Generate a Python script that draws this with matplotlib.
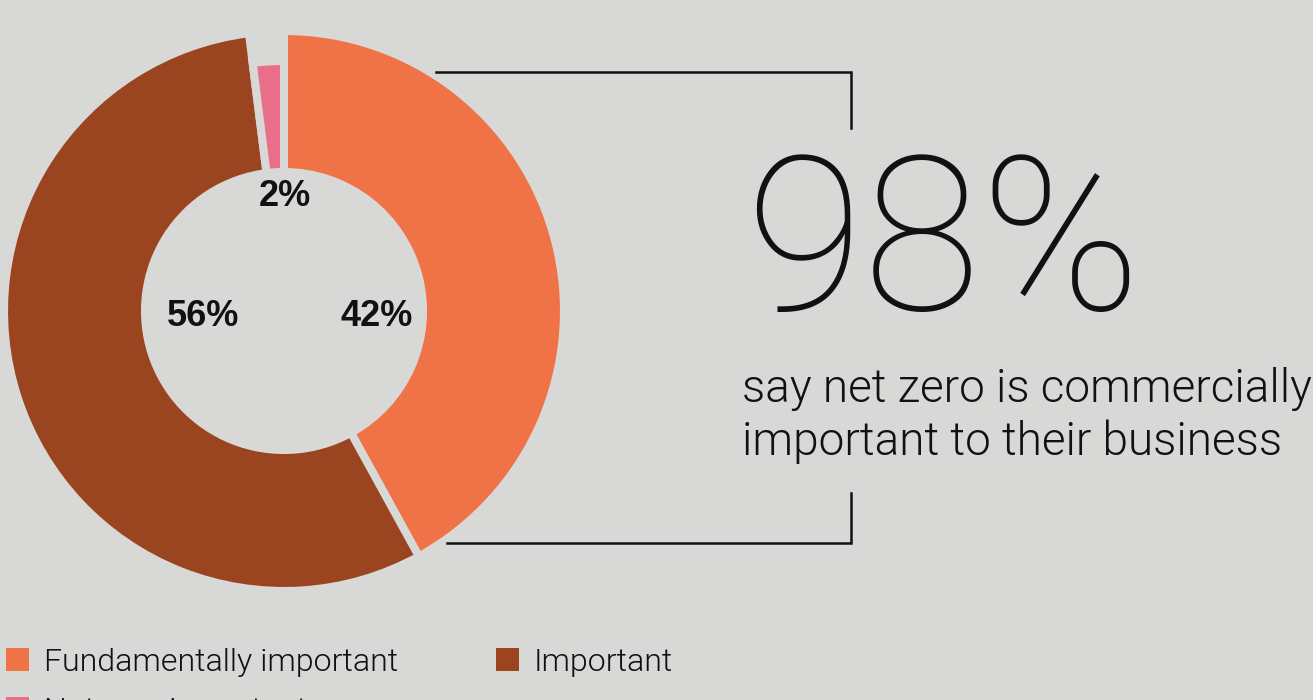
import matplotlib
matplotlib.use("Agg")
import matplotlib.pyplot as plt
from matplotlib import font_manager
from matplotlib.patches import Patch

# Survey data
categories = ["Fundamentally important", "Important", "Not very important"]
shares = [42, 56, 2]
share_labels = ["42%", "56%", "2%"]
colors = ["#EF7346", "#9A4520", "#E86F87"]
headline = "98%"
subtitle = ["say net zero is commercially", "important to their business"]

BG = "#D8D8D6"
INK = "#111111"
W, H = 1313, 700


def lightest(families):
    """Return the path of the lightest installed upright face among the given families."""
    for fam in families:
        best = None
        for f in font_manager.fontManager.ttflist:
            if f.name == fam and f.style == "normal":
                w = f.weight if isinstance(f.weight, int) else 400
                if best is None or w < best[0]:
                    best = (w, f.fname)
        if best is not None:
            return best[1]
    return None


def face(family, weight):
    for f in font_manager.fontManager.ttflist:
        if f.name == family and f.style == "normal" and f.weight == weight:
            return f.fname
    return None


thin_path = lightest(["Roboto", "Lato", "Open Sans", "Noto Sans"])
light_path = face("Roboto", 300) or thin_path
thin_fp = font_manager.FontProperties(fname=thin_path) if thin_path else font_manager.FontProperties(weight="light")
light_fp = font_manager.FontProperties(fname=light_path) if light_path else font_manager.FontProperties(weight="light")

fig = plt.figure(figsize=(W / 100, H / 100), dpi=100, facecolor=BG)
ax = fig.add_axes([0, 0, 1, 1])
ax.set_facecolor(BG)

# Donut, clockwise from 12 o'clock, slices separated by background-coloured edges
cx, cy = 284, H - 311
r_out, r_in = 280, 139
gap_lw = 5.8
wedges, _ = ax.pie(
    shares,
    colors=colors,
    startangle=90,
    counterclock=False,
    center=(cx, cy),
    radius=r_out,
    wedgeprops=dict(width=r_out - r_in, edgecolor=BG, linewidth=gap_lw),
)
# the small slice is drawn with a shorter outer radius
r_small = 250
wedges[2].set_radius(r_small)
wedges[2].set_width(r_small - r_in)

ax.set_xlim(0, W)
ax.set_ylim(0, H)
ax.axis("off")

# Percentage labels inside the hole
label_pos = [(377, 316), (203, 316), (285, 197)]
for txt, (x, y) in zip(share_labels, label_pos):
    ax.text(x, H - y, txt, ha="center", va="center", fontsize=26,
            fontweight="bold", family="Liberation Sans", color=INK)

# Bracket lines around the headline
ax.plot([436, 851, 851], [H - 72, H - 72, H - 128], color=INK, lw=1.8,
        solid_joinstyle="miter")
ax.plot([447, 851, 851], [H - 543, H - 543, H - 493], color=INK, lw=1.8,
        solid_joinstyle="miter")

# Headline figure and caption
ax.text(745, H - 310, headline, ha="left", va="baseline", fontproperties=thin_fp,
        fontsize=155, color=INK)
ax.text(742, H - 402, subtitle[0], ha="left", va="baseline",
        fontproperties=light_fp, fontsize=33, color=INK)
ax.text(742, H - 455, subtitle[1], ha="left", va="baseline",
        fontproperties=light_fp, fontsize=33, color=INK)

# Legend, filled row by row (matplotlib fills columns, so reorder)
order = [0, 2, 1]
handles = [Patch(facecolor=colors[i], edgecolor="none") for i in order]
labels = [categories[i] for i in order]
leg_fp = light_fp.copy()
leg_fp.set_size(23.1)
ax.legend(handles, labels, ncol=2, loc="upper left",
          bbox_to_anchor=(6 / W, 1 - 648 / H), bbox_transform=fig.transFigure,
          frameon=False, prop=leg_fp, handlelength=0.73, handleheight=0.73,
          handletextpad=0.45, columnspacing=3.05, labelspacing=0.62,
          borderpad=0, borderaxespad=0, labelcolor=INK)

fig.savefig("out.png", dpi=100, facecolor=BG)
